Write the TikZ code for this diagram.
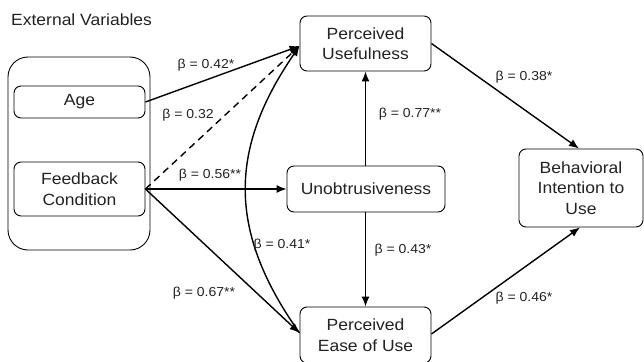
\documentclass[tikz,border=0pt]{standalone}
\usepackage{fontspec}
\setmainfont{Liberation Sans}[FakeStretch=1.08]
\usetikzlibrary{arrows.meta}
\definecolor{txt}{HTML}{222222}
\tikzset{
  box/.style={draw, line width=0.9pt, rounded corners=7pt, align=center, text=txt,
    font=\fontsize{16.2}{20.5}\selectfont, inner sep=0pt},
  beta/.style={text=txt, font=\fontsize{13}{15}\selectfont, inner sep=0pt},
  arr/.style={line width=1.4pt, -{Latex[length=10pt,width=8pt]}},
  plain/.style={line width=1.4pt}
}
\begin{document}
\begin{tikzpicture}[x=1pt,y=-1pt]
\useasboundingbox (0,0) rectangle (644,361);
% external variables
\node[anchor=west, text=txt, font=\fontsize{16.2}{20}\selectfont, inner sep=0pt] (ext) at (11,19.5) {External Variables};
\node[draw, line width=0.9pt, rounded corners=20pt, minimum width=142pt, minimum height=193pt, inner sep=0pt] (outer) at (79,153.5) {};
\node[box, minimum width=131pt, minimum height=32pt] (age) at (79.5,102) {Age};
\node[box, minimum width=131pt, minimum height=54pt] (fb) at (79.5,189) {Feedback\\Condition};
% constructs
\node[box, minimum width=131pt, minimum height=55pt] (pu) at (365.5,43.5) {Perceived\\Usefulness};
\node[box, minimum width=158pt, minimum height=46pt] (un) at (366,189) {Unobtrusiveness};
\node[box, minimum width=131pt, minimum height=56pt] (peu) at (365.5,335) {Perceived\\Ease of Use};
\node[box, minimum width=124pt, minimum height=78pt] (bi) at (581,188) {Behavioral\\Intention to\\Use};
% connector end points
\coordinate (puin) at ([yshift=-2.5pt]pu.west);
\coordinate (peuin) at ([yshift=2pt]peu.west);
\coordinate (biup) at ([xshift=-2pt]bi.north);
\coordinate (bidn) at ([xshift=-1pt]bi.south);
% connectors
\draw[arr] (age.east) -- (puin);
\draw[arr, dashed, dash pattern=on 7pt off 5pt] (fb.east) -- (puin);
\draw[arr] (fb.east) -- (un.west);
\draw[arr] (fb.east) -- (peuin);
\draw[arr] (peuin) .. controls (228,232) and (228,150) .. (puin);
\draw[arr] (un.north -| pu.south) -- (pu.south);
\draw[arr] (un.south -| peu.north) -- (peu.north);
\draw[arr] (pu.east) -- (biup);
\draw[arr] ([yshift=1pt]peu.east) -- (bidn);
% labels
\node[beta] (b1) at (206,65) {β = 0.42*};
\node[beta] (b2) at (188,115) {β = 0.32};
\node[beta] (b3) at (210,175) {β = 0.56**};
\node[beta] (b4) at (282,245) {β = 0.41*};
\node[beta] (b5) at (204,293) {β = 0.67**};
\node[beta] (b6) at (410,114) {β = 0.77**};
\node[beta] (b7) at (403,250) {β = 0.43*};
\node[beta] (b8) at (524,77) {β = 0.38*};
\node[beta] (b9) at (524,298) {β = 0.46*};
\end{tikzpicture}
\end{document}
